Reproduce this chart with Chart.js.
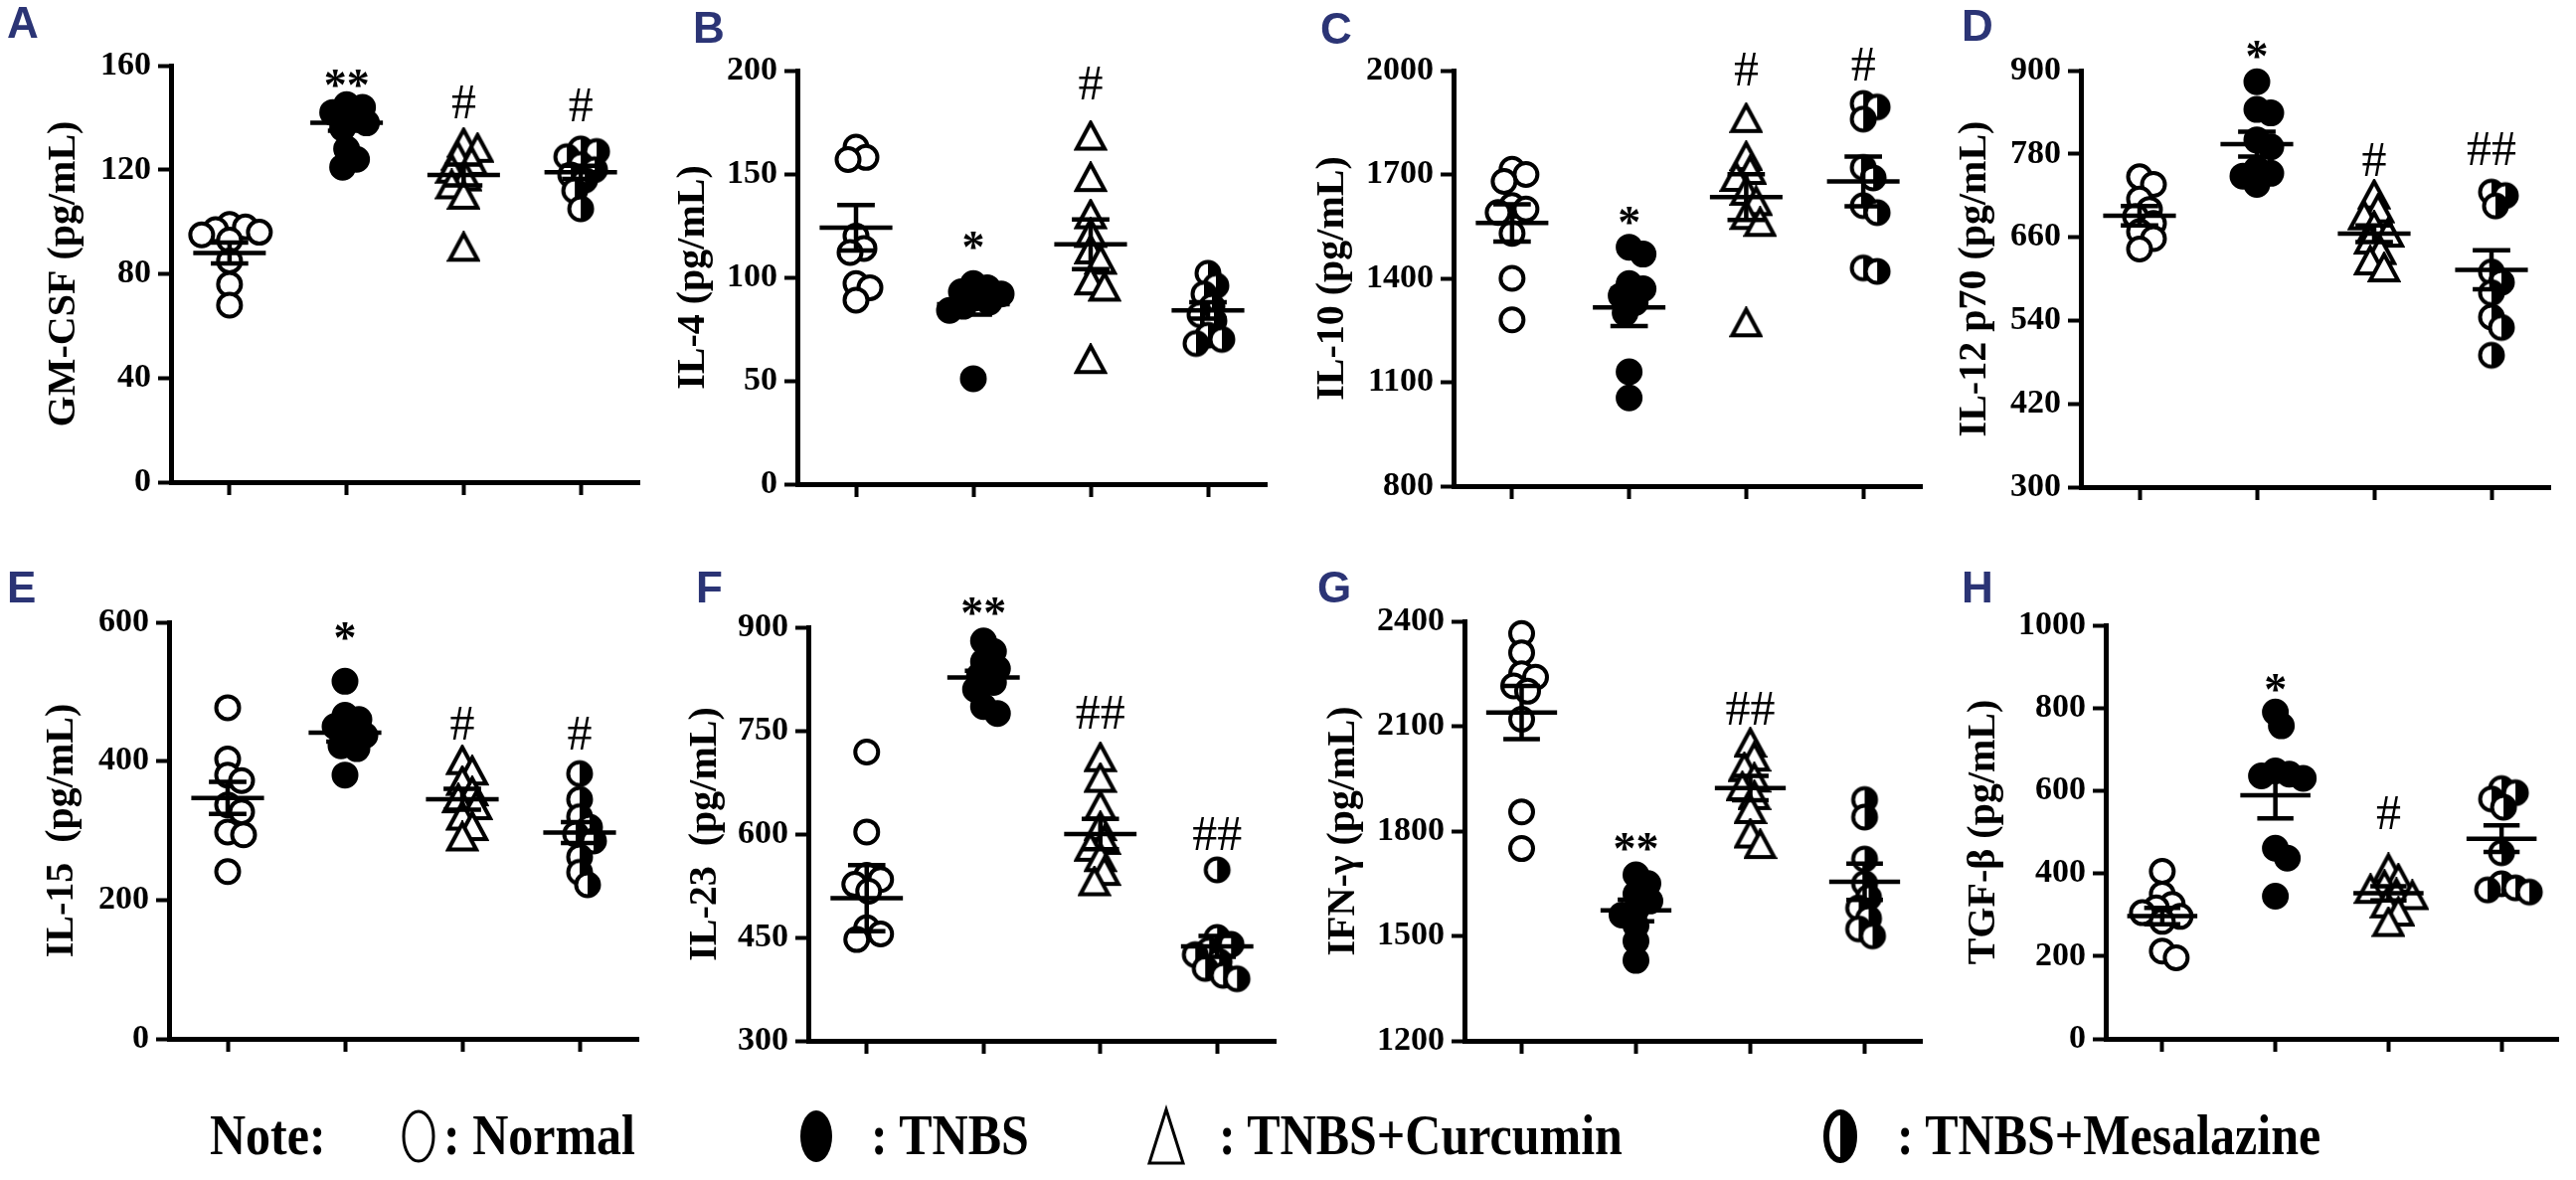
<!DOCTYPE html>
<html>
<head>
<meta charset="utf-8">
<script src="https://cdn.jsdelivr.net/npm/chart.js@4.4.0/dist/chart.umd.min.js"></script>
<style>
  html, body { margin: 0; padding: 0; background: #fff; }
  #page { position: relative; width: 2591px; height: 1187px; overflow: hidden; background: #fff; }
  .panel { position: absolute; }
  .tag { position: absolute; font: bold 44px "Liberation Sans", Arial, sans-serif; color: #2b3475; line-height: 1; }
  .lg { position: absolute; top: 1116px; font: bold 50px "Liberation Serif", "Times New Roman", serif; line-height: 1; white-space: pre; color: #000; transform: scaleY(1.15); transform-origin: 0 50%; }
  .sym { position: absolute; top: 1110px; }
</style>
</head>
<body>
<div id="page">
  <div class="lg" style="left:211px">Note:</div>
  <svg class="sym" style="left:399px" width="44" height="66"><ellipse cx="22" cy="33" rx="15" ry="25" fill="#fff" stroke="#000" stroke-width="3"/></svg>
  <div class="lg" style="left:446px">: Normal</div>
  <svg class="sym" style="left:799px" width="44" height="66"><ellipse cx="22" cy="33" rx="16" ry="26" fill="#000"/></svg>
  <div class="lg" style="left:876px">: TNBS</div>
  <svg class="sym" style="left:1151px" width="44" height="66"><polygon points="22,6 39,60 5,60" fill="#fff" stroke="#000" stroke-width="3"/></svg>
  <div class="lg" style="left:1226px">: TNBS+Curcumin</div>
  <svg class="sym" style="left:1829px" width="44" height="66"><ellipse cx="22" cy="33" rx="14" ry="24" fill="#fff"/><path d="M22 9 A14 24 0 0 1 22 57 Z" fill="#000"/><ellipse cx="22" cy="33" rx="14" ry="24" fill="none" stroke="#000" stroke-width="6"/></svg>
  <div class="lg" style="left:1908px">: TNBS+Mesalazine</div>
</div>
<script>
const groupNames = ['Normal', 'TNBS', 'TNBS+Curcumin', 'TNBS+Mesalazine'];

// A  GM-CSF
const gmcsfTicks = [0, 40, 80, 120, 160];
const gmcsfPoints = [
  [99, 98, 97, 96, 95, 93, 85, 76, 68],
  [145, 144, 142, 140, 138, 136, 128, 124, 121],
  [130, 128, 125, 123, 120, 117, 114, 110, 90],
  [128, 127, 125, 122, 120, 118, 116, 112, 105]
];
const gmcsfMean = [88, 138, 118, 119];
const gmcsfSem = [4, 3, 4, 2.5];
const gmcsfMarks = ['', '**', '#', '#'];
const gmcsfMarkAt = [null, 155, 146, 145];

// B  IL-4
const il4Ticks = [0, 50, 100, 150, 200];
const il4Points = [
  [163, 158, 157, 120, 114, 112, 97, 95, 89],
  [97, 95, 93, 92, 90, 88, 86, 84, 51],
  [168, 148, 130, 121, 113, 108, 98, 95, 60],
  [102, 96, 92, 86, 82, 79, 72, 70, 68]
];
const il4Mean = [124, 87, 116, 84];
const il4Sem = [11, 5, 12, 4];
const il4Marks = ['', '*', '#', ''];
const il4MarkAt = [null, 118, 194, null];

// C  IL-10
const il10Ticks = [800, 1100, 1400, 1700, 2000];
const il10Points = [
  [1715, 1700, 1680, 1610, 1600, 1590, 1530, 1400, 1280],
  [1490, 1470, 1385, 1370, 1350, 1330, 1300, 1130, 1055],
  [1860, 1750, 1710, 1690, 1650, 1620, 1580, 1560, 1270],
  [1905, 1895, 1860, 1720, 1690, 1610, 1590, 1430, 1420]
];
const il10Mean = [1560, 1316, 1635, 1680];
const il10Sem = [54, 54, 66, 72];
const il10Marks = ['', '*', '#', '#'];
const il10MarkAt = [null, 1582, 2005, 2020];

// D  IL-12 p70
const il12Ticks = [300, 420, 540, 660, 780, 900];
const il12Points = [
  [747, 736, 715, 700, 690, 680, 668, 658, 643],
  [884, 844, 839, 800, 790, 758, 752, 748, 736],
  [720, 700, 690, 675, 665, 655, 640, 625, 615],
  [725, 720, 705, 610, 595, 580, 545, 530, 490]
];
const il12Mean = [691, 794, 665, 613];
const il12Sem = [14, 18, 12, 28];
const il12Marks = ['', '*', '#', '##'];
const il12MarkAt = [null, 930, 772, 788];

// E  IL-15
const il15Ticks = [0, 200, 400, 600];
const il15Points = [
  [477, 403, 380, 372, 337, 327, 298, 294, 241],
  [515, 466, 460, 450, 440, 437, 422, 418, 380],
  [400, 385, 370, 355, 345, 335, 320, 305, 290],
  [382, 345, 320, 305, 295, 285, 262, 240, 222]
];
const il15Mean = [347, 441, 345, 297];
const il15Sem = [23, 13, 15, 15];
const il15Marks = ['', '*', '#', '#'];
const il15MarkAt = [null, 587, 455, 440];

// F  IL-23
const il23Ticks = [300, 450, 600, 750, 900];
const il23Points = [
  [719, 603, 540, 534, 527, 517, 464, 455, 447],
  [880, 865, 850, 840, 830, 820, 810, 785, 775],
  [710, 680, 640, 610, 590, 580, 565, 545, 530],
  [548, 450, 440, 432, 425, 415, 405, 395, 390]
];
const il23Mean = [507, 827, 600, 437];
const il23Sem = [48, 10, 22, 15];
const il23Marks = ['', '**', '##', '##'];
const il23MarkAt = [null, 930, 776, 601];

// G  IFN-γ
const ifngTicks = [1200, 1500, 1800, 2100, 2400];
const ifngPoints = [
  [2365, 2310, 2250, 2240, 2215, 2200, 2120, 1855, 1750],
  [1675, 1650, 1620, 1600, 1575, 1560, 1530, 1485, 1430],
  [2050, 2010, 1980, 1950, 1925, 1900, 1860, 1790, 1760],
  [1890, 1840, 1720, 1650, 1610, 1580, 1550, 1520, 1500]
];
const ifngMean = [2139, 1573, 1923, 1655];
const ifngSem = [76, 31, 35, 52];
const ifngMarks = ['', '**', '##', ''];
const ifngMarkAt = [null, 1769, 2152, null];

// H  TGF-β
const tgfbTicks = [0, 200, 400, 600, 800, 1000];
const tgfbPoints = [
  [405, 350, 325, 317, 305, 296, 284, 212, 196],
  [790, 757, 648, 640, 636, 630, 461, 437, 345],
  [410, 385, 370, 360, 350, 345, 325, 305, 280],
  [605, 595, 580, 560, 450, 375, 365, 360, 355]
];
const tgfbMean = [297, 589, 352, 484];
const tgfbSem = [20, 56, 17, 32];
const tgfbMarks = ['', '*', '#', ''];
const tgfbMarkAt = [null, 860, 548, null];

const panels = [
  { tag: 'A', left: 0,    top: 0,   axisX: 172,  yTop: 66,  yBot: 485,  titleX: 65,   title: 'GM-CSF (pg/mL)',    ticks: gmcsfTicks, points: gmcsfPoints, mean: gmcsfMean, sem: gmcsfSem, marks: gmcsfMarks, markAt: gmcsfMarkAt, tagX: 7,    tagY: 7 },
  { tag: 'B', left: 640,  top: 0,   axisX: 802,  yTop: 71,  yBot: 487,  titleX: 698,  title: 'IL-4 (pg/mL)',      ticks: il4Ticks,   points: il4Points,   mean: il4Mean,   sem: il4Sem,   marks: il4Marks,   markAt: il4MarkAt,   tagX: 697,  tagY: 12 },
  { tag: 'C', left: 1290, top: 0,   axisX: 1462, yTop: 71,  yBot: 489,  titleX: 1341, title: 'IL-10 (pg/mL)',     ticks: il10Ticks,  points: il10Points,  mean: il10Mean,  sem: il10Sem,  marks: il10Marks,  markAt: il10MarkAt,  tagX: 1328, tagY: 13 },
  { tag: 'D', left: 1930, top: 0,   axisX: 2093, yTop: 71,  yBot: 490,  titleX: 1987, title: 'IL-12 p70 (pg/mL)', ticks: il12Ticks,  points: il12Points,  mean: il12Mean,  sem: il12Sem,  marks: il12Marks,  markAt: il12MarkAt,  tagX: 1973, tagY: 10 },
  { tag: 'E', left: 0,    top: 555, axisX: 170,  yTop: 626, yBot: 1045, titleX: 63,   title: 'IL-15  (pg/mL)',    ticks: il15Ticks,  points: il15Points,  mean: il15Mean,  sem: il15Sem,  marks: il15Marks,  markAt: il15MarkAt,  tagX: 7,    tagY: 575 },
  { tag: 'F', left: 640,  top: 555, axisX: 813,  yTop: 631, yBot: 1047, titleX: 710,  title: 'IL-23  (pg/mL)',    ticks: il23Ticks,  points: il23Points,  mean: il23Mean,  sem: il23Sem,  marks: il23Marks,  markAt: il23MarkAt,  tagX: 700,  tagY: 575 },
  { tag: 'G', left: 1290, top: 555, axisX: 1473, yTop: 625, yBot: 1047, titleX: 1352, title: 'IFN-\u03b3 (pg/mL)', ticks: ifngTicks,  points: ifngPoints,  mean: ifngMean,  sem: ifngSem,  marks: ifngMarks,  markAt: ifngMarkAt,  tagX: 1325, tagY: 575 },
  { tag: 'H', left: 1930, top: 555, axisX: 2118, yTop: 629, yBot: 1045, titleX: 1996, title: 'TGF-\u03b2 (pg/mL)', ticks: tgfbTicks,  points: tgfbPoints,  mean: tgfbMean,  sem: tgfbSem,  marks: tgfbMarks,  markAt: tgfbMarkAt,  tagX: 1973, tagY: 575 }
];

const R = 11.5, BW = 4, CAT = 118, XH = 20;
const serif = '"Liberation Serif", "Times New Roman", serif';

function markerImage(kind){
  const c = document.createElement('canvas');
  c.width = 34; c.height = 34;
  const g = c.getContext('2d');
  g.lineWidth = BW; g.strokeStyle = '#000';
  if(kind === 'triangle'){
    g.beginPath(); g.moveTo(17, 3); g.lineTo(31, 29); g.lineTo(3, 29); g.closePath();
    g.fillStyle = '#fff'; g.fill(); g.stroke();
  } else {
    g.beginPath(); g.arc(17, 17, R, 0, Math.PI * 2); g.fillStyle = '#fff'; g.fill();
    g.beginPath(); g.moveTo(17, 17); g.arc(17, 17, R, -Math.PI / 2, Math.PI / 2); g.closePath();
    g.fillStyle = '#000'; g.fill();
    g.beginPath(); g.arc(17, 17, R, 0, Math.PI * 2); g.stroke();
  }
  return c;
}
const triImg = markerImage('triangle');
const halfImg = markerImage('half');
const styles = ['circle', 'circle', triImg, halfImg];
const fills = ['#fff', '#000', '#fff', '#fff'];

// mean line + SEM whiskers, drawn through the chart scales
const meanSem = {
  id: 'meanSem',
  afterDatasetsDraw(chart, args, opts){
    const { ctx, scales: { x, y } } = chart;
    ctx.save();
    ctx.strokeStyle = '#000'; ctx.lineWidth = 4.5; ctx.lineCap = 'butt';
    opts.mean.forEach((m, g) => {
      const s = opts.sem[g];
      const seg = (x0, x1, v0, v1) => {
        ctx.beginPath();
        ctx.moveTo(x.getPixelForValue(x0), y.getPixelForValue(v0));
        ctx.lineTo(x.getPixelForValue(x1), y.getPixelForValue(v1));
        ctx.stroke();
      };
      seg(g - 0.31, g + 0.31, m, m);
      seg(g - 0.16, g + 0.16, m + s, m + s);
      seg(g - 0.16, g + 0.16, m - s, m - s);
      seg(g, g, m - s, m + s);
    });
    ctx.restore();
  }
};

// significance symbols above groups
const sigMarks = {
  id: 'sigMarks',
  afterDraw(chart, args, opts){
    const { ctx, scales: { x, y } } = chart;
    ctx.save();
    ctx.fillStyle = '#000'; ctx.textAlign = 'center'; ctx.textBaseline = 'alphabetic';
    opts.marks.forEach((t, g) => {
      if(!t) return;
      ctx.font = (t.indexOf('*') >= 0 ? 'bold 46px ' : '50px ') + serif;
      const m = ctx.measureText(t);
      const px = x.getPixelForValue(g), py = y.getPixelForValue(opts.at[g]);
      ctx.fillText(t, px, py + (m.actualBoundingBoxAscent - m.actualBoundingBoxDescent) / 2);
    });
    ctx.restore();
  }
};

// spread points of a group sideways, letting them overlap like the original
function swarm(chart){
  const xs = chart.scales.x, ys = chart.scales.y;
  chart.data.datasets.forEach((ds, g) => {
    const cx = xs.getPixelForValue(g);
    const order = ds.data.map((d, i) => i).sort((a, b) => ds.data[b].y - ds.data[a].y);
    const placed = [];
    order.forEach(i => {
      const py = ys.getPixelForValue(ds.data[i].y);
      let off = 0, bestD = -1;
      for(let k = 0; k < 40; k++){
        const o = (k % 2 ? 1 : -1) * Math.ceil(k / 2) * 2;
        if(Math.abs(o) > 30) break;
        const d = placed.length ? Math.min(...placed.map(p => Math.hypot(p.x - (cx + o), p.y - py))) : 99;
        if(d >= R * 1.25){ off = o; bestD = d; break; }
        if(d > bestD){ bestD = d; off = o; }
      }
      placed.push({ x: cx + off, y: py });
      ds.data[i].x = xs.getValueForPixel(cx + off);
    });
  });
  chart.update('none');
}

const page = document.getElementById('page');

panels.forEach(p => {
  const tag = document.createElement('div');
  tag.className = 'tag'; tag.textContent = p.tag;
  tag.style.left = p.tagX + 'px'; tag.style.top = (p.tagY - 6) + 'px';
  page.appendChild(tag);

  const W = Math.min(661, 2591 - p.left), H = p.top === 0 ? 540 : 535;
  const axisRel = p.axisX - p.left;
  const box = document.createElement('div');
  box.className = 'panel';
  box.style.left = p.left + 'px'; box.style.top = p.top + 'px';
  box.style.width = W + 'px'; box.style.height = H + 'px';
  const cv = document.createElement('canvas');
  cv.width = W; cv.height = H;
  box.appendChild(cv);
  page.insertBefore(box, page.firstChild);

  const datasets = p.points.map((vals, g) => ({
    label: groupNames[g],
    data: vals.map(v => ({ x: g, y: v })),
    pointStyle: styles[g],
    pointRadius: g === 2 ? 14 : R,
    backgroundColor: fills[g],
    borderColor: '#000',
    borderWidth: BW,
    showLine: false,
    clip: false
  }));

  const chart = new Chart(cv, {
    type: 'scatter',
    data: { datasets },
    options: {
      responsive: false,
      animation: false,
      devicePixelRatio: 1,
      events: [],
      layout: { padding: { left: 0, top: p.yTop - p.top, right: W - axisRel - 4 * CAT, bottom: H - (p.yBot - p.top) - XH } },
      plugins: {
        legend: { display: false },
        tooltip: { enabled: false },
        meanSem: { mean: p.mean, sem: p.sem },
        sigMarks: { marks: p.marks, at: p.markAt }
      },
      scales: {
        x: {
          type: 'linear', min: -0.5, max: 3.5,
          afterBuildTicks: s => { s.ticks = [0, 1, 2, 3].map(v => ({ value: v })); },
          afterFit: s => { s.height = XH; },
          ticks: { callback: () => '', padding: 0 },
          grid: { drawOnChartArea: false, drawTicks: true, tickLength: 13, tickWidth: 4, tickColor: '#000' },
          border: { display: true, width: 5, color: '#000' }
        },
        y: {
          type: 'linear', min: p.ticks[0], max: p.ticks[p.ticks.length - 1],
          afterBuildTicks: s => { s.ticks = p.ticks.map(v => ({ value: v })); },
          afterFit: s => { s.width = axisRel; },
          ticks: { color: '#000', padding: 7, font: { family: serif, size: 34, weight: 'bold' }, callback: v => String(v) },
          grid: { drawOnChartArea: false, drawTicks: true, tickLength: 13, tickWidth: 4, tickColor: '#000' },
          border: { display: true, width: 5, color: '#000' },
          title: {
            display: true, text: p.title, color: '#000',
            font: { family: serif, size: 40, weight: 'bold' },
            padding: { top: (p.titleX - p.left) - 24, bottom: 0 }
          }
        }
      }
    },
    plugins: [meanSem, sigMarks]
  });
  swarm(chart);
});
</script>
</body>
</html>
